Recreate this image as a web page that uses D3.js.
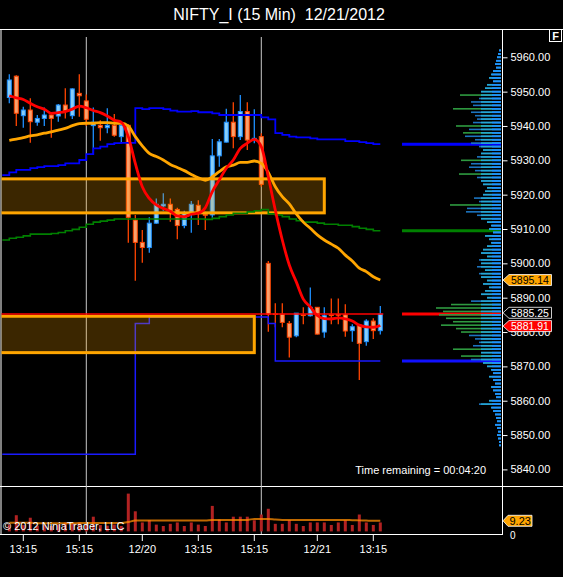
<!DOCTYPE html>
<html><head><meta charset="utf-8">
<script src="https://cdn.jsdelivr.net/npm/d3@7/dist/d3.min.js"></script>
<style>html,body{margin:0;padding:0;background:#000;overflow:hidden}text{font-family:"Liberation Sans",Arial,sans-serif}</style>
</head><body>
<svg id="c" width="563" height="577"></svg>
<script>
// ---------- DATA ----------
const opens  = [5948.3,5954.5,5943.0,5944.65,5941.1,5942.2,5943.2,5942.9,5946.1,5943.0,5949.5,5947.3,5940.1,5940.2,5939.5,5940.2,5936.9,5940.2,5912.6,5906.1,5904.6,5911.7,5916.7,5917.2,5915.7,5911.0,5914.6,5916.9,5914.2,5914.1,5931.3,5935.3,5941.1,5936.9,5944.2,5936.0,5936.9,5900.0,5885.3,5885.2,5882.5,5878.9,5885.0,5884.75,5887.2,5880.0,5885.0,5885.1,5885.0,5880.4,5882.0,5877.2,5883.2,5880.4];
const highs  = [5955.1,5954.8,5945.6,5948.1,5943.2,5945.4,5943.4,5946.4,5951.0,5951.0,5955.1,5949.2,5945.4,5941.7,5945.15,5943.5,5941.25,5940.5,5914.1,5909.7,5913.4,5918.9,5920.4,5918.9,5916.2,5915.3,5918.15,5918.4,5915.0,5936.2,5936.2,5945.0,5946.9,5949.0,5946.9,5944.9,5937.9,5900.7,5888.4,5888.4,5883.2,5885.5,5887.2,5893.0,5887.3,5887.2,5889.8,5889.8,5888.1,5882.3,5882.1,5883.7,5884.0,5887.6];
const lows   = [5946.6,5940.0,5939.5,5935.1,5940.1,5940.0,5936.6,5941.25,5942.2,5942.0,5942.7,5940.0,5931.75,5935.7,5937.9,5936.9,5935.0,5906.0,5894.9,5900.2,5903.1,5911.5,5915.3,5912.1,5907.0,5910.2,5908.9,5911.2,5909.7,5913.3,5928.1,5935.2,5933.5,5935.9,5933.0,5935.0,5922.3,5880.1,5881.4,5881.4,5872.6,5878.5,5882.3,5884.5,5879.3,5878.3,5882.3,5882.3,5878.6,5877.2,5866.0,5876.0,5878.0,5879.3];
const closes = [5953.4,5943.7,5944.65,5941.25,5942.2,5943.2,5942.2,5946.1,5944.45,5950.8,5948.8,5941.95,5941.1,5939.5,5940.2,5937.3,5940.2,5913.4,5906.1,5904.6,5911.7,5917.2,5917.2,5915.3,5911.0,5914.6,5917.2,5915.0,5914.0,5931.3,5935.4,5941.1,5936.9,5944.2,5935.9,5936.4,5923.0,5885.2,5885.1,5882.8,5878.5,5885.5,5884.8,5887.2,5879.4,5884.75,5884.8,5884.9,5880.3,5881.55,5876.7,5883.2,5880.4,5885.25];
const volumes = [6.0,14.1,5.5,11.9,5.0,5.5,4.7,6.0,7.8,7.8,7.8,5.5,12.8,5.5,5.0,6.0,4.7,32.9,17.5,7.8,9.7,5.9,4.7,6.6,7.8,4.7,7.8,5.9,4.7,22.2,10.3,7.8,12.8,12.8,12.8,9.7,14.7,19.7,6.6,6.6,9.7,6.6,4.7,7.8,7.8,7.8,5.6,7.8,9.7,5.6,14.7,7.8,5.6,7.8];
const volAvg = [7.6,7.6,7.6,7.6,7.0,7.0,7.0,7.0,7.0,7.0,7.4,7.4,7.4,7.4,7.4,7.4,7.4,8.2,9.4,9.4,9.4,9.4,9.4,9.4,9.4,9.4,9.4,9.4,9.4,10.0,10.0,10.0,10.0,10.0,10.0,10.9,10.9,10.9,10.3,10.0,10.0,10.0,10.0,10.0,10.0,10.0,10.0,10.0,10.0,9.7,9.6,9.4,9.3,9.23];
const emaRed = [5948.8,5948.2,5947.7,5946.6,5945.6,5944.9,5943.7,5943.9,5944.2,5944.9,5945.8,5945.3,5944.5,5943.9,5942.9,5941.7,5941.1,5936.9,5929.1,5922.3,5918.9,5917.0,5916.0,5915.2,5913.8,5913.6,5914.3,5914.6,5916.2,5920.9,5924.3,5927.7,5930.1,5933.5,5935.0,5936.1,5934.0,5925.2,5915.5,5906.8,5899.5,5894.6,5889.6,5887.3,5884.8,5883.9,5883.8,5884.1,5883.8,5883.2,5882.0,5881.5,5881.4,5881.91];
const smaOrange = [5935.8,5936.2,5936.6,5937.1,5937.4,5937.9,5938.3,5938.8,5939.3,5940.1,5940.7,5940.8,5940.8,5941.0,5941.0,5940.8,5940.8,5940.0,5936.9,5934.2,5932.0,5931.1,5930.1,5928.8,5927.9,5927.0,5925.9,5924.9,5924.2,5925.2,5926.7,5928.1,5928.6,5929.4,5929.4,5929.8,5929.1,5926.5,5922.3,5919.4,5917.3,5914.4,5912.0,5910.2,5908.3,5906.8,5905.6,5904.4,5902.4,5900.7,5898.6,5897.6,5896.1,5895.14];
// step lines: bar index -1 .. 53
const upperBlue = [5925.7,5926.5,5927.2,5927.2,5927.7,5928.0,5928.3,5928.3,5928.6,5929.1,5929.1,5930.1,5931.8,5933.5,5934.0,5934.7,5935.0,5935.1,5935.1,5945.2,5944.9,5945.2,5945.2,5944.9,5944.5,5944.2,5944.2,5944.3,5944.0,5944.0,5943.7,5943.2,5943.2,5943.2,5943.2,5943.2,5943.2,5942.5,5941.9,5937.9,5937.4,5936.9,5936.7,5936.7,5936.4,5936.1,5936.1,5936.1,5936.1,5935.6,5935.6,5935.3,5935.0,5934.7,5934.7];
const greenLine = [5906.8,5907.3,5907.6,5908.0,5908.5,5908.5,5908.5,5908.7,5909.0,5909.5,5909.9,5910.5,5911.4,5912.0,5912.3,5912.6,5912.9,5912.9,5912.9,5912.9,5912.9,5912.9,5912.9,5912.9,5912.9,5912.9,5912.9,5912.9,5912.9,5912.8,5913.1,5913.6,5914.1,5914.6,5914.6,5915.0,5915.3,5915.7,5914.4,5914.1,5913.6,5912.9,5912.4,5912.0,5912.0,5911.7,5911.4,5911.4,5911.1,5911.1,5910.7,5910.2,5909.9,5909.5,5909.5];
const lowerBlue = [5844.4,5844.4,5844.4,5844.4,5844.4,5844.4,5844.4,5844.4,5844.4,5844.4,5844.4,5844.4,5844.4,5844.4,5844.4,5844.4,5844.4,5844.4,5844.4,5882.5,5882.5,5884.4,5884.4,5884.4,5884.4,5884.4,5884.4,5884.4,5884.4,5884.4,5884.4,5884.4,5884.4,5884.4,5884.4,5884.4,5884.4,5884.4,5882.5,5871.6,5871.6,5871.6,5871.6,5871.6,5871.6,5871.6,5871.6,5871.6,5871.6,5871.6,5871.6,5871.6,5871.6,5871.6,5871.6];
const lastPrice = 5885.25;
// zones
const zoneTop = [5924.6, 5884.6];
const zoneBottom = [5914.7, 5874.0];
const zoneEnd = [45, 35];
// session break bars
const sessionIdx = [11, 36];
// x axis
const tickIdx = [2, 10, 19, 27, 35, 44, 52];
const tickLabels = ["13:15","15:15","12/20","13:15","15:15","12/21","13:15"];
// volume profile (levels 5962 down to 5847, 1 pt apart)
const profLen = [2,3,4,5,6,5,8,10,12,8,
 14,16,20,41,22,30,28,48,30,26,
 24,28,45,32,38,36,26,30,22,18,
 20,24,40,30,32,26,42,24,20,18,
 14,16,18,27,22,51,34,35,24,20,
 14,10,12,8,16,12,10,14,18,20,
 14,22,20,24,16,22,20,14,18,12,
 16,20,14,30,50,65,58,62,55,48,
 60,45,40,32,26,22,28,48,20,40,
 30,18,14,10,8,12,8,6,10,8,
 6,5,12,22,10,8,6,5,4,6,
 4,3,4,3,2,2];
const profLevels = d3.range(5962, 5846, -1);

// ---------- DRAW ----------
const W = 563, H = 577;
const svg = d3.select("#c");
svg.append("rect").attr("width", W).attr("height", H).attr("fill", "#000");

const x = d3.scaleLinear().domain([0, 53]).range([9.3, 380.3]);
const y = d3.scaleLinear().domain([5840, 5960]).range([469.4, 57.3]);
const yv = d3.scaleLinear().domain([0, 33]).range([531.4, 493.5]);
const xp = d3.scaleLinear().domain([0, 100]).range([501, 401]);

const defs = svg.append("defs");
defs.append("clipPath").attr("id", "pc").append("rect").attr("x", 1.5).attr("y", 30).attr("width", 500.5).attr("height", 456);

// title
svg.append("text").attr("x", 279).attr("y", 20).attr("text-anchor", "middle")
  .attr("fill", "#fff").attr("font-size", 16).style("white-space", "pre")
  .text("NIFTY_I (15 Min)  12/21/2012");

// frame
const fr = svg.append("g").attr("stroke", "#fff").attr("stroke-width", 1);
fr.append("line").attr("x1", 0).attr("x2", W).attr("y1", 29.5).attr("y2", 29.5);
fr.append("line").attr("x1", 0).attr("x2", W).attr("y1", 486.5).attr("y2", 486.5);
fr.append("line").attr("x1", 0).attr("x2", 503).attr("y1", 534.5).attr("y2", 534.5);
fr.append("line").attr("x1", 1).attr("x2", 1).attr("y1", 29.5).attr("y2", 534.5);
fr.append("line").attr("x1", 502.5).attr("x2", 502.5).attr("y1", 29.5).attr("y2", 534.5);

// F box
svg.append("rect").attr("x", 549.5).attr("y", 29.5).attr("width", 12).attr("height", 12).attr("fill", "#000").attr("stroke", "#fff");
svg.append("text").attr("x", 555.5).attr("y", 39.5).attr("text-anchor", "middle").attr("fill", "#fff").attr("font-size", 11).attr("font-weight", "bold").text("F");

// session lines
svg.append("g").selectAll("line").data(sessionIdx).join("line")
  .attr("x1", d => x(d)).attr("x2", d => x(d)).attr("y1", 37).attr("y2", 534)
  .attr("stroke", "#c8c8c8").attr("stroke-width", 1);

// volume profile lines (under profile)
const profLines = [
  {v: upperBlue[upperBlue.length - 1], c: "#0000ff"},
  {v: greenLine[greenLine.length - 1], c: "#008000"},
  {v: lastPrice, c: "#ff0000"},
  {v: lowerBlue[lowerBlue.length - 1], c: "#1010ff"}
];
svg.append("g").selectAll("line").data(profLines).join("line")
  .attr("x1", 402).attr("x2", 501).attr("y1", d => y(d.v)).attr("y2", d => y(d.v))
  .attr("stroke", d => d.c).attr("stroke-width", 3);

// volume profile
const pg = svg.append("g");
profLevels.forEach((p, i) => {
  const L = profLen[i];
  const yy = y(p) - 0.8;
  pg.append("rect").attr("x", xp(L)).attr("y", yy).attr("width", xp(0) - xp(L)).attr("height", 1.6)
    .attr("fill", L >= 38 ? "#2e9a40" : "#1c74bf");
  const m = Math.min(L, 20);
  pg.append("rect").attr("x", xp(m)).attr("y", yy).attr("width", xp(0) - xp(m)).attr("height", 1.6)
    .attr("fill", "#24a6d2");
  const s = Math.min(L, 9);
  pg.append("rect").attr("x", xp(s)).attr("y", yy).attr("width", xp(0) - xp(s)).attr("height", 1.6)
    .attr("fill", "#1E90FF");
});

// price panel content
const pp = svg.append("g").attr("clip-path", "url(#pc)");
const idx = d3.range(opens.length);
const stepIdx = d3.range(-1, 54);
const stepLine = d3.line().x((d, i) => x(stepIdx[i])).y(d => y(d)).curve(d3.curveStepAfter);

// candles
const cg = pp.append("g");
idx.forEach(i => {
  const up = closes[i] >= opens[i];
  const st = up ? "#1E90FF" : "#FF4500";
  const fl = up ? "#87CEFA" : "#F9A06C";
  cg.append("line").attr("x1", x(i)).attr("x2", x(i)).attr("y1", y(highs[i])).attr("y2", y(lows[i]))
    .attr("stroke", st).attr("stroke-width", 1.3);
  const top = y(Math.max(opens[i], closes[i])), bot = y(Math.min(opens[i], closes[i]));
  cg.append("rect").attr("x", x(i) - 2).attr("y", top).attr("width", 4).attr("height", Math.max(bot - top, 0.6))
    .attr("fill", fl).attr("stroke", st).attr("stroke-width", 1);
});

// lower step line (under zones)
pp.append("path").attr("d", stepLine(lowerBlue)).attr("fill", "none").attr("stroke", "#1a1aff").attr("stroke-width", 1.5);

// zones
zoneTop.forEach((t, k) => {
  pp.append("rect").attr("x", -10).attr("y", y(t)).attr("width", x(zoneEnd[k]) + 10).attr("height", y(zoneBottom[k]) - y(t))
    .attr("fill", "#FFA500").attr("fill-opacity", 0.23).attr("stroke", "#FFA500").attr("stroke-width", 3);
});

// step lines
pp.append("path").attr("d", stepLine(greenLine)).attr("fill", "none").attr("stroke", "#008000").attr("stroke-width", 1.6);
pp.append("path").attr("d", stepLine(upperBlue)).attr("fill", "none").attr("stroke", "#0000ff").attr("stroke-width", 1.8);

// last price line
pp.append("line").attr("x1", 0).attr("x2", x(53) + 3).attr("y1", y(lastPrice)).attr("y2", y(lastPrice))
  .attr("stroke", "#ff0000").attr("stroke-width", 1.5);

// SMA and EMA
const ln = d3.line().x((d, i) => x(i)).y(d => y(d)).curve(d3.curveMonotoneX);
pp.append("path").attr("d", ln(smaOrange)).attr("fill", "none").attr("stroke", "#FFA500").attr("stroke-width", 2.8);
pp.append("path").attr("d", ln(emaRed)).attr("fill", "none").attr("stroke", "#ff0000").attr("stroke-width", 2.8);

// y axis
const ax = svg.append("g").attr("transform", "translate(502.5,0)")
  .call(d3.axisRight(y).tickValues(d3.range(5840, 5961, 10)).tickFormat(d3.format(".2f")).tickSize(5).tickPadding(3));
ax.select(".domain").remove();
ax.selectAll("line").attr("stroke", "#fff");
ax.selectAll("text").attr("fill", "#fff").attr("font-size", 11).attr("font-family", "Liberation Sans, Arial, sans-serif");

// price markers (small nudge keeps adjacent labels apart)
function marker(v, nudge, txt, fill, tcol) {
  const yc = y(v) + nudge;
  svg.append("path").attr("d", `M503,${yc} L509,${yc - 5.5} L551.5,${yc - 5.5} L551.5,${yc + 5.5} L509,${yc + 5.5} Z`)
    .attr("fill", fill).attr("stroke", "#fff").attr("stroke-width", 0.8);
  svg.append("text").attr("x", 511).attr("y", yc + 3.8).attr("fill", tcol).attr("font-size", 10.5).text(txt);
}
marker(smaOrange[smaOrange.length - 1], 0, "5895.14", "#FFA500", "#000");
marker(lastPrice, -1.2, "5885.25", "#000", "#fff");
marker(emaRed[emaRed.length - 1], 0.6, "5881.91", "#ff0000", "#fff");

// time remaining
svg.append("text").attr("x", 486).attr("y", 474).attr("text-anchor", "end").attr("fill", "#fff").attr("font-size", 11)
  .text("Time remaining = 00:04:20");

// volume panel
svg.append("g").selectAll("rect").data(volumes).join("rect")
  .attr("x", (d, i) => x(i) - 1.5).attr("width", 3).attr("y", d => yv(d)).attr("height", d => yv(0) - yv(d))
  .attr("fill", "#B22222");
svg.append("path").attr("d", d3.line().x((d, i) => x(i)).y(d => yv(d)).curve(d3.curveMonotoneX)(volAvg))
  .attr("fill", "none").attr("stroke", "#FF8C00").attr("stroke-opacity", 0.75).attr("stroke-width", 2);
svg.append("text").attr("x", 3).attr("y", 530).attr("fill", "#fff").attr("font-size", 11).text("© 2012 NinjaTrader, LLC");
const va = volAvg[volAvg.length - 1];
svg.append("path").attr("d", `M503,${yv(va)} L508,${yv(va) - 5.5} L532,${yv(va) - 5.5} L532,${yv(va) + 5.5} L508,${yv(va) + 5.5} Z`)
  .attr("fill", "#FFA500").attr("stroke", "#fff").attr("stroke-width", 0.8);
svg.append("text").attr("x", 509.5).attr("y", yv(va) + 4).attr("fill", "#000").attr("font-size", 11).text(d3.format(".2f")(va));
svg.append("text").attr("x", 510).attr("y", 539).attr("fill", "#fff").attr("font-size", 10).text("0");

// x axis
const xg = svg.append("g");
xg.selectAll("line").data(tickIdx).join("line")
  .attr("x1", d => x(d)).attr("x2", d => x(d)).attr("y1", 535).attr("y2", 541).attr("stroke", "#fff");
xg.selectAll("text").data(tickIdx).join("text")
  .attr("x", d => x(d)).attr("y", 553).attr("text-anchor", "middle").attr("fill", "#fff").attr("font-size", 11)
  .text((d, i) => tickLabels[i]);
</script>
</body></html>
